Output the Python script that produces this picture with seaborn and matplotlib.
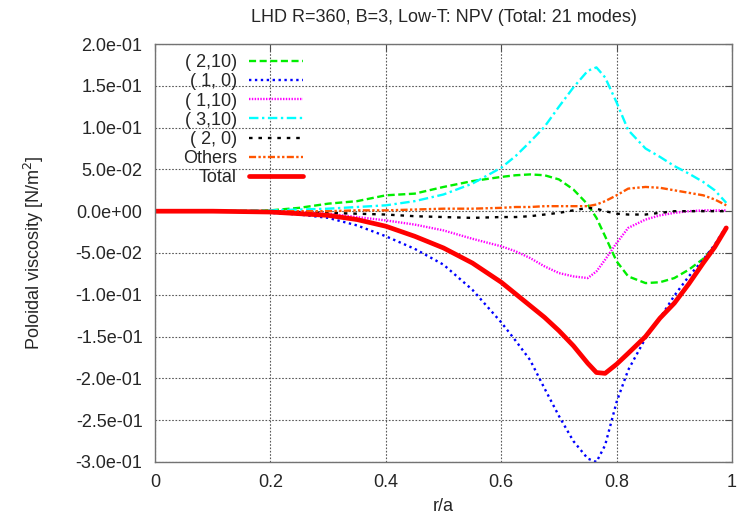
import matplotlib
matplotlib.use("Agg")
import matplotlib.pyplot as plt
import seaborn as sns
from matplotlib.ticker import FormatStrFormatter, FuncFormatter, MultipleLocator

# radial positions (r/a)
r = [0.0, 0.1, 0.2, 0.25, 0.3, 0.35, 0.4, 0.45, 0.5, 0.55, 0.6, 0.625, 0.65,
     0.675, 0.7, 0.725, 0.75, 0.765, 0.78, 0.8, 0.82, 0.85, 0.875, 0.9,
     0.925, 0.95, 0.97, 0.99]

m2_10 = [0, 0, 0.001, 0.004, 0.009, 0.012, 0.019, 0.021, 0.029, 0.036, 0.041,
         0.043, 0.044, 0.043, 0.038, 0.026, 0.008, -0.008, -0.030, -0.060,
         -0.078, -0.086, -0.085, -0.080, -0.070, -0.057, -0.042, -0.020]
m1_0 = [0, 0, -0.002, -0.004, -0.008, -0.017, -0.030, -0.045, -0.064, -0.094,
        -0.133, -0.155, -0.178, -0.212, -0.245, -0.275, -0.296, -0.300,
        -0.280, -0.228, -0.190, -0.152, -0.128, -0.101, -0.078, -0.058,
        -0.040, -0.018]
m1_10 = [0, 0, 0, -0.001, -0.003, -0.007, -0.011, -0.016, -0.023, -0.033,
         -0.042, -0.048, -0.056, -0.066, -0.074, -0.078, -0.080, -0.072,
         -0.058, -0.038, -0.020, -0.010, -0.005, -0.002, 0, 0.001, 0.001, 0.001]
m3_10 = [0, 0, 0.001, 0.002, 0.003, 0.005, 0.007, 0.012, 0.020, 0.033, 0.052,
         0.066, 0.083, 0.101, 0.125, 0.148, 0.168, 0.172, 0.160, 0.130, 0.097,
         0.075, 0.065, 0.054, 0.045, 0.035, 0.025, 0.010]
m2_0 = [0, 0, 0, -0.001, -0.002, -0.003, -0.004, -0.006, -0.007, -0.008,
        -0.007, -0.007, -0.006, -0.004, -0.002, 0.001, 0.004, 0.003, 0.0,
        -0.003, -0.004, -0.004, -0.002, 0, 0, 0, 0, 0]
others = [0, 0, 0, 0, 0, 0.001, 0.001, 0.002, 0.003, 0.003, 0.004, 0.005,
          0.005, 0.006, 0.006, 0.006, 0.006, 0.008, 0.012, 0.019, 0.027,
          0.029, 0.028, 0.025, 0.022, 0.019, 0.014, 0.007]
total = [0, 0, -0.001, -0.003, -0.005, -0.010, -0.018, -0.030, -0.044, -0.062,
         -0.085, -0.099, -0.113, -0.127, -0.143, -0.161, -0.182, -0.193,
         -0.194, -0.183, -0.170, -0.150, -0.128, -0.110, -0.087, -0.062,
         -0.043, -0.020]

labels = ["( 2,10)", "( 1, 0)", "( 1,10)", "( 3,10)", "( 2, 0)", "Others", "Total"]
series = [m2_10, m1_0, m1_10, m3_10, m2_0, others, total]
colors = ["#00ee00", "#0000ff", "#ff00ff", "#00ffff", "#000000", "#ff5500", "#ff0000"]
dashes = [(3, 1.5), (1, 1.5), (0.6, 0.6), (4, 1.5, 1, 1.5), (1.5, 2.5),
          (3, 1, 1, 1, 1, 1), None]

FS = 13

sns.set_style("white")
plt.rcParams["font.family"] = ["Liberation Sans", "DejaVu Sans"]
plt.rcParams["font.size"] = FS

fig = plt.figure(figsize=(7.47, 5.22), dpi=100)
ax = fig.add_axes([0.2075, 0.115, 0.7725, 0.8007])

for lab, vals, col, dsh in zip(labels, series, colors, dashes):
    lw = 3.4 if dsh is None else 1.7
    sns.lineplot(x=r, y=vals, ax=ax, color=col, lw=lw, label=lab)
    if dsh is not None:
        ax.lines[-1].set_dashes(dsh)

ax.set_xlim(0, 1)
ax.set_ylim(-0.3, 0.2)
ax.xaxis.set_major_locator(MultipleLocator(0.2))
ax.yaxis.set_major_locator(MultipleLocator(0.05))
ax.yaxis.set_major_formatter(FormatStrFormatter("%.1e"))
ax.xaxis.set_major_formatter(FuncFormatter(lambda v, p: "%g" % round(v, 3)))
ax.grid(True, ls=(0, (1.5, 1.5)), color="0.35", lw=0.8)
ax.tick_params(direction="in", top=True, right=True, length=5, color="0.3",
               labelsize=FS, pad=9)
for sp in ax.spines.values():
    sp.set_color("0.45")
    sp.set_linewidth(1.0)

ax.set_title("LHD R=360, B=3, Low-T: NPV (Total: 21 modes)", fontsize=FS, pad=16)
ax.set_xlabel("r/a", fontsize=FS, labelpad=5)
ax.set_ylabel("Poloidal viscosity [N/m$^2$]", fontsize=FS, labelpad=21)

ax.legend(loc="upper right", bbox_to_anchor=(0.281, 1.01), frameon=False,
          markerfirst=False, handlelength=3.0, labelspacing=0.12,
          handletextpad=0.65, borderpad=0.3, fontsize=FS)

fig.savefig("out.png", dpi=100)
